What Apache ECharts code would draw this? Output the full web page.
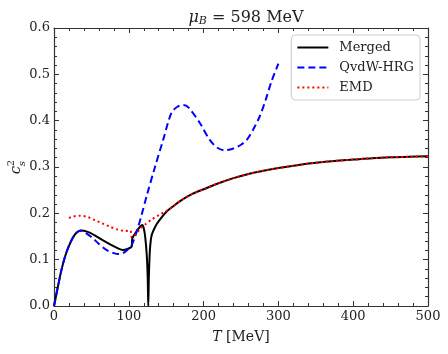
<!DOCTYPE html>
<html>
<head>
<meta charset="utf-8">
<script src="https://cdn.jsdelivr.net/npm/echarts@6/dist/echarts.min.js"></script>
<style>
html,body{margin:0;padding:0;background:#fff;}
#chart{width:448px;height:354px;}
</style>
</head>
<body>
<div id="chart"></div>
<script>
// c_s^2 vs T, mu_B = 598 MeV
var tMerged = [0, 5, 10, 15, 20, 25, 30, 36, 45, 55, 65, 75, 85, 92, 98, 104, 104.5, 110, 115, 118, 120, 122, 124, 125.3, 126, 126.8, 128, 129.5, 131, 135, 140, 150, 160, 170, 185, 200, 220, 240, 260, 280, 300, 325, 350, 375, 400, 425, 450, 475, 500];
var csMerged = [0, 0.04, 0.078, 0.108, 0.13, 0.147, 0.158, 0.163, 0.16, 0.152, 0.142, 0.133, 0.125, 0.121, 0.123, 0.129, 0.145, 0.16, 0.171, 0.175, 0.168, 0.148, 0.11, 0.06, 0, 0.06, 0.115, 0.143, 0.155, 0.17, 0.183, 0.203, 0.216, 0.228, 0.242, 0.252, 0.265, 0.276, 0.285, 0.292, 0.298, 0.304, 0.309, 0.313, 0.316, 0.319, 0.321, 0.322, 0.323];

var tHrg = [0, 5, 10, 15, 20, 25, 30, 35, 40, 50, 60, 70, 80, 86, 92, 98, 104, 110, 116, 124, 135, 146, 157, 165, 173, 180, 195, 208, 218, 228, 240, 250, 258, 266, 275, 283, 291, 300];
var csHrg = [0, 0.04, 0.078, 0.108, 0.13, 0.147, 0.158, 0.163, 0.16, 0.149, 0.134, 0.121, 0.114, 0.112, 0.114, 0.121, 0.132, 0.158, 0.19, 0.238, 0.3, 0.359, 0.417, 0.43, 0.434, 0.428, 0.395, 0.359, 0.342, 0.336, 0.34, 0.348, 0.359, 0.38, 0.409, 0.445, 0.486, 0.523];

var tEmd = [20, 25, 35, 45, 55, 65, 75, 85, 95, 102, 104, 108, 115, 122, 130, 140, 150, 160, 170, 185, 200, 220, 240, 260, 280, 300, 325, 350, 375, 400, 425, 450, 475, 500];
var csEmd = [0.19, 0.193, 0.195, 0.192, 0.185, 0.178, 0.171, 0.165, 0.162, 0.163, 0.148, 0.152, 0.166, 0.176, 0.186, 0.196, 0.205, 0.216, 0.228, 0.242, 0.252, 0.265, 0.276, 0.285, 0.292, 0.298, 0.304, 0.309, 0.313, 0.316, 0.319, 0.321, 0.322, 0.323];

var xTicks = [0, 100, 200, 300, 400, 500];
var yTicks = [0.0, 0.1, 0.2, 0.3, 0.4, 0.5, 0.6];

function pairs(xs, ys) {
    var out = [];
    for (var i = 0; i < xs.length; i++) out.push([xs[i], ys[i]]);
    return out;
}

var font = 'DejaVu Serif';
var axisColor = '#333';

function frameAxis(pos, isX, showLabel) {
    var ax = {
        type: 'value',
        position: pos,
        min: isX ? xTicks[0] : yTicks[0],
        max: isX ? xTicks[xTicks.length - 1] : yTicks[yTicks.length - 1],
        interval: isX ? 100 : 0.1,
        axisLine: { show: true, onZero: false, lineStyle: { color: axisColor, width: 1.2 } },
        axisTick: { show: true, inside: true, length: 5, lineStyle: { color: axisColor } },
        minorTick: { show: true, splitNumber: 5, length: 3, lineStyle: { color: axisColor } },
        splitLine: { show: false },
        axisLabel: {
            show: showLabel,
            color: '#222',
            fontFamily: font,
            fontSize: 13,
            margin: 4,
            formatter: function (v) { return isX ? String(v) : v.toFixed(1); }
        }
    };
    return ax;
}

var xMain = frameAxis('bottom', true, true);
xMain.name = '{i|T} [MeV]';
xMain.nameLocation = 'middle';
xMain.nameGap = 24;
xMain.nameTextStyle = { color: '#222', fontFamily: font, fontSize: 14, rich: { i: { fontStyle: 'italic', fontFamily: font, fontSize: 14, color: '#222' } } };

var myChart = echarts.init(document.getElementById('chart'));
var option = {
    animation: false,
    title: {
        text: '{i|μ}{sub|B} = 598 MeV',
        left: 241,
        top: 3,
        textAlign: 'center',
        textStyle: {
            fontFamily: font, fontSize: 16, fontWeight: 'normal', color: '#222',
            rich: {
                i: { fontStyle: 'italic', fontFamily: font, fontSize: 16, color: '#222' },
                sub: { fontStyle: 'italic', fontFamily: font, fontSize: 11, color: '#222', padding: [8, 0, 0, 0] }
            }
        }
    },
    grid: { left: 54, right: 20, top: 28, bottom: 48 },
    legend: {
        orient: 'vertical',
        right: 28,
        top: 35,
        padding: [6, 6, 6, 5],
        itemGap: 7,
        itemWidth: 31,
        itemHeight: 14,
        backgroundColor: '#fff',
        borderColor: '#ccc',
        borderWidth: 1,
        borderRadius: 4,
        itemStyle: { opacity: 0 },
        textStyle: { fontFamily: font, fontSize: 13, color: '#222', padding: [0, 0, 0, 6] },
        data: ['Merged', 'QvdW-HRG', 'EMD']
    },
    xAxis: [xMain, frameAxis('top', true, false)],
    yAxis: [frameAxis('left', false, true), frameAxis('right', false, false)],
    graphic: [{
        type: 'group',
        left: 6,
        top: 160,
        rotation: Math.PI / 2,
        children: [
            { type: 'text', x: 0, y: 0, style: { text: 'c', fontFamily: font, fontStyle: 'italic', fontSize: 15, fill: '#222' } },
            { type: 'text', x: 8, y: -3, style: { text: '2', fontFamily: font, fontSize: 10, fill: '#222' } },
            { type: 'text', x: 8, y: 8, style: { text: 's', fontFamily: font, fontStyle: 'italic', fontSize: 10, fill: '#222' } }
        ]
    }],
    series: [{
        type: 'line',
        name: 'Merged',
        data: pairs(tMerged, csMerged),
        showSymbol: false,
        symbol: 'none',
        smooth: 0.3,
        lineStyle: { color: '#000', width: 2 },
        itemStyle: { color: '#000' }
    }, {
        type: 'line',
        name: 'QvdW-HRG',
        data: pairs(tHrg, csHrg),
        showSymbol: false,
        symbol: 'none',
        smooth: 0.3,
        lineStyle: { color: '#0000ff', width: 2, type: [7, 4] },
        itemStyle: { color: '#0000ff' }
    }, {
        type: 'line',
        name: 'EMD',
        data: pairs(tEmd, csEmd),
        showSymbol: false,
        symbol: 'none',
        smooth: 0.3,
        lineStyle: { color: '#ff0000', width: 2, type: [2, 3] },
        itemStyle: { color: '#ff0000' }
    }]
};
myChart.setOption(option);
</script>
</body>
</html>
